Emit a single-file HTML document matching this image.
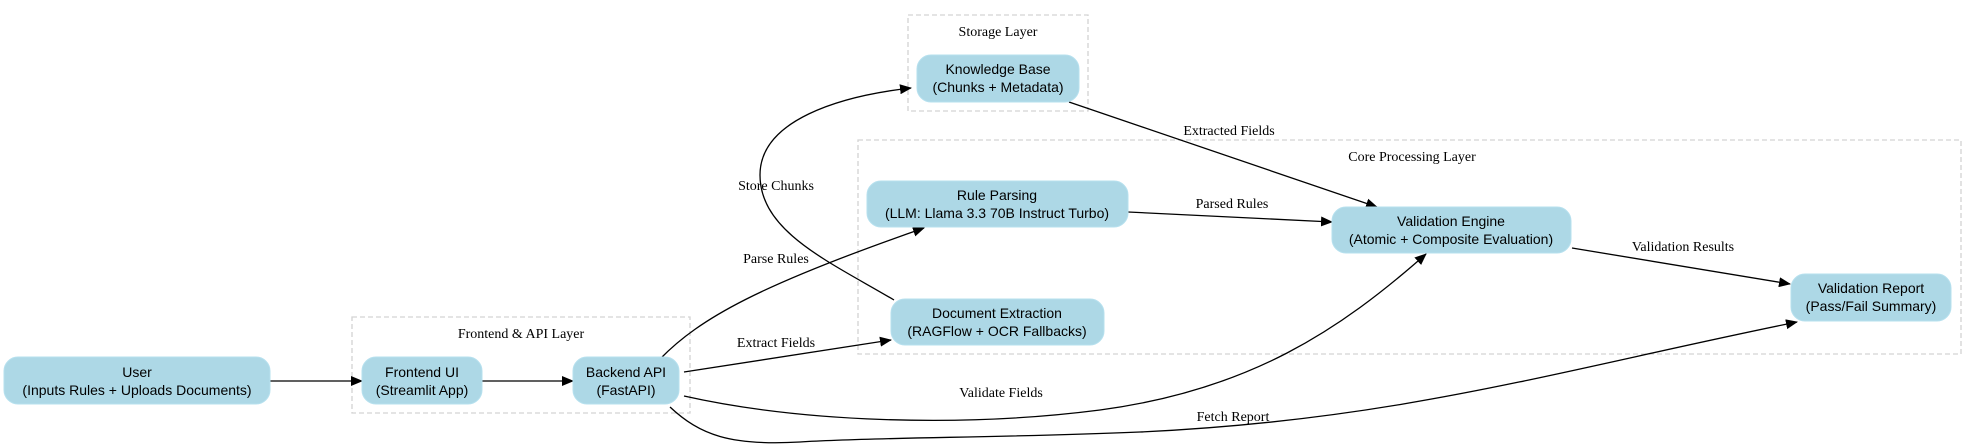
<!DOCTYPE html>
<html><head><meta charset="utf-8"><style>
html,body{margin:0;padding:0;background:#fff;width:1976px;height:447px;overflow:hidden}
svg{display:block}
.n{font-family:"Liberation Sans",Arial,sans-serif;font-size:14px;fill:#000;text-anchor:middle}
.l{font-family:"Liberation Serif","Times New Roman",serif;font-size:14px;fill:#000;text-anchor:middle}
.c{fill:none;stroke:#d3d3d3;stroke-width:1.3;stroke-dasharray:5,3}
.b{fill:#add8e6;stroke:#b6e0ee;stroke-width:1}
.e{fill:none;stroke:#000;stroke-width:1.3}
</style></head><body>
<svg width="1976" height="447" viewBox="0 0 1976 447" xmlns="http://www.w3.org/2000/svg">
<defs><marker id="a" markerWidth="12" markerHeight="10" refX="11" refY="5" orient="auto" markerUnits="userSpaceOnUse"><path d="M0,0 L12,5 L0,10 z" fill="#000"/></marker></defs>
<rect class="c" x="352" y="317" width="338" height="96"/>
<text class="l" x="521" y="338">Frontend &amp; API Layer</text>
<rect class="c" x="908" y="15" width="180" height="96"/>
<text class="l" x="998" y="36">Storage Layer</text>
<rect class="c" x="858" y="140" width="1103" height="214"/>
<text class="l" x="1412" y="161">Core Processing Layer</text>
<path class="e" marker-end="url(#a)" d="M270,381 L362,381"/>
<path class="e" marker-end="url(#a)" d="M482,381 L573,381"/>
<path class="e" marker-end="url(#a)" d="M660,359 C700,318 760,285 924,228"/>
<text class="l" x="776" y="263">Parse Rules</text>
<path class="e" marker-end="url(#a)" d="M684,372 L891,340"/>
<text class="l" x="776" y="347">Extract Fields</text>
<path class="e" marker-end="url(#a)" d="M894,300 C830,262 760,232 760,175 C760,120 840,96 911,88"/>
<text class="l" x="776" y="190">Store Chunks</text>
<path class="e" marker-end="url(#a)" d="M1069,102 L1377,207"/>
<text class="l" x="1229" y="135">Extracted Fields</text>
<path class="e" marker-end="url(#a)" d="M1128,212 L1332,222"/>
<text class="l" x="1232" y="208">Parsed Rules</text>
<path class="e" marker-end="url(#a)" d="M1572,248 L1790,284"/>
<text class="l" x="1683" y="251">Validation Results</text>
<path class="e" marker-end="url(#a)" d="M684,396 C800,422 960,428 1100,410 C1250,390 1340,330 1426,254"/>
<text class="l" x="1001" y="397">Validate Fields</text>
<path class="e" marker-end="url(#a)" d="M670,407 C700,435 730,446 800,442 C880,437 1000,438 1140,432 C1400,420 1560,370 1797,322"/>
<text class="l" x="1233" y="421">Fetch Report</text>
<rect class="b" x="4" y="357" width="266" height="47" rx="14"/>
<text class="n" x="137" y="377">User</text><text class="n" x="137" y="395">(Inputs Rules + Uploads Documents)</text>
<rect class="b" x="362" y="357" width="120" height="47" rx="14"/>
<text class="n" x="422" y="377">Frontend UI</text><text class="n" x="422" y="395">(Streamlit App)</text>
<rect class="b" x="573" y="357" width="106" height="47" rx="14"/>
<text class="n" x="626" y="377">Backend API</text><text class="n" x="626" y="395">(FastAPI)</text>
<rect class="b" x="917" y="55" width="162" height="47" rx="14"/>
<text class="n" x="998" y="74">Knowledge Base</text><text class="n" x="998" y="92">(Chunks + Metadata)</text>
<rect class="b" x="867" y="181" width="261" height="46" rx="14"/>
<text class="n" x="997" y="200">Rule Parsing</text><text class="n" x="997" y="218">(LLM: Llama 3.3 70B Instruct Turbo)</text>
<rect class="b" x="891" y="299" width="213" height="46" rx="14"/>
<text class="n" x="997" y="318">Document Extraction</text><text class="n" x="997" y="336">(RAGFlow + OCR Fallbacks)</text>
<rect class="b" x="1332" y="207" width="239" height="46" rx="14"/>
<text class="n" x="1451" y="226">Validation Engine</text><text class="n" x="1451" y="244">(Atomic + Composite Evaluation)</text>
<rect class="b" x="1791" y="274" width="160" height="47" rx="14"/>
<text class="n" x="1871" y="293">Validation Report</text><text class="n" x="1871" y="311">(Pass/Fail Summary)</text>
</svg>
</body></html>
